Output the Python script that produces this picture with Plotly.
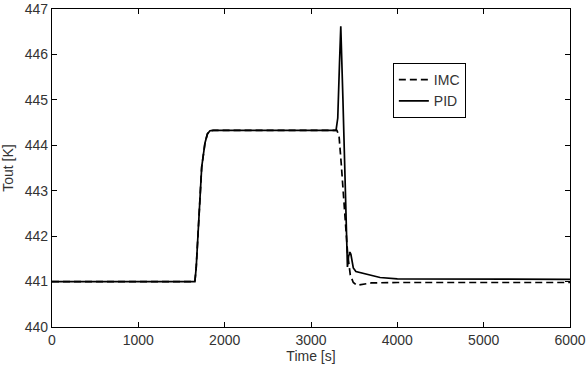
import plotly.graph_objects as go

# PID (solid)
pid_t = [0, 1655, 1670, 1695, 1734, 1772, 1800, 1830, 1870, 3290, 3310, 3330, 3345,
         3370, 3395, 3410, 3422, 3435, 3450, 3462, 3490, 3520, 3600, 3700, 3800, 4000, 6000]
pid_y = [441.0, 441.0, 441.3, 442.07, 443.52, 444.05, 444.25, 444.32, 444.33, 444.33, 444.6, 445.8, 446.62,
         445.0, 443.0, 441.8, 441.32, 441.55, 441.65, 441.6, 441.3, 441.22, 441.18, 441.13, 441.09, 441.06, 441.05]

# IMC (dashed)
imc_t = [0, 1655, 1670, 1695, 1734, 1772, 1800, 1830, 1870, 3300, 3325, 3350, 3390,
         3425, 3455, 3490, 3530, 3570, 3620, 3700, 4000, 6000]
imc_y = [441.0, 441.0, 441.3, 442.07, 443.52, 444.05, 444.25, 444.32, 444.33, 444.33, 444.2, 443.6, 442.5,
         441.6, 441.15, 440.98, 440.92, 440.93, 440.95, 440.97, 440.98, 440.98]

x_ticks = [0, 1000, 2000, 3000, 4000, 5000, 6000]
y_ticks = [440, 441, 442, 443, 444, 445, 446, 447]

FONT = "Liberation Sans, Arial, sans-serif"
TXT = "#333333"

fig = go.Figure()
fig.add_trace(go.Scatter(x=imc_t, y=imc_y, mode="lines", name="IMC",
                         line=dict(color="black", width=1.7, dash="7px,4px")))
fig.add_trace(go.Scatter(x=pid_t, y=pid_y, mode="lines", name="PID",
                         line=dict(color="black", width=1.7)))

axis_common = dict(showgrid=False, zeroline=False, showline=True, linecolor="black", linewidth=1.2,
                   mirror="ticks", ticks="inside", ticklen=5, tickcolor="black", automargin=False,
                   tickfont=dict(family=FONT, size=14, color=TXT))

fig.update_layout(
    width=588, height=366,
    margin=dict(l=52, r=18, t=9, b=39),
    plot_bgcolor="white", paper_bgcolor="white",
    font=dict(family=FONT, size=14, color=TXT),
    xaxis=dict(range=[0, 6000], tickvals=x_ticks,
               title=dict(text="Time [s]", standoff=3, font=dict(size=14, color=TXT)), **axis_common),
    yaxis=dict(range=[440, 447], tickvals=y_ticks,
               title=dict(text="Tout [K]", standoff=8, font=dict(size=14, color=TXT)), **axis_common),
    legend=dict(x=0.658, y=0.83, xanchor="left", yanchor="top",
                bordercolor="black", borderwidth=1, bgcolor="white",
                font=dict(family=FONT, size=14, color=TXT), tracegroupgap=0, itemwidth=30),
    showlegend=True,
)

fig.write_html("out.html")
